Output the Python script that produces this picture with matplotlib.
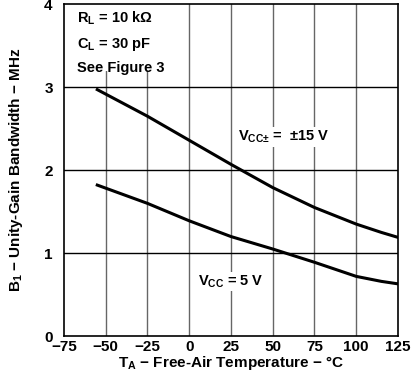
import matplotlib.pyplot as plt
from matplotlib.patches import Rectangle

plt.rcParams["font.family"] = ["Liberation Sans", "DejaVu Sans"]
plt.rcParams["font.weight"] = "bold"
plt.rcParams["mathtext.fontset"] = "custom"
plt.rcParams["mathtext.bf"] = "Liberation Sans:bold"
plt.rcParams["mathtext.rm"] = "Liberation Sans:bold"
plt.rcParams["mathtext.default"] = "bf"

temps = [-55, -25, 0, 25, 50, 75, 100, 115, 125]
bw_15v = [2.97, 2.65, 2.36, 2.07, 1.79, 1.55, 1.35, 1.25, 1.19]
bw_5v = [1.82, 1.60, 1.39, 1.20, 1.05, 0.89, 0.72, 0.66, 0.63]

xticks = [-75, -50, -25, 0, 25, 50, 75, 100, 125]
xlabels = ["\u221275", "\u221250", "\u221225", "0", "25", "50", "75", "100", "125"]
yticks = [0, 1, 2, 3, 4]

fig = plt.figure(figsize=(4.12, 3.76), dpi=100)
ax = fig.add_axes([0.155, 0.106, 0.811, 0.883])

# grid: vertical grey, horizontal black
for x in xticks[1:-1]:
    ax.axvline(x, color="#666666", lw=1.0, zorder=1)
for y in yticks[1:-1]:
    ax.axhline(y, color="black", lw=1.0, zorder=1)

ax.plot(temps, bw_15v, color="black", lw=2.2, zorder=3)
ax.plot(temps, bw_5v, color="black", lw=2.2, zorder=3)

ax.set_xlim(-75, 125)
ax.set_ylim(0, 4)
ax.set_xticks(xticks)
ax.set_yticks(yticks)
ax.set_xticklabels(xlabels)
ax.tick_params(length=0, labelsize=11, pad=3)
ax.tick_params(axis="y", pad=8)
for s in ax.spines.values():
    s.set_linewidth(1.2)

# white panel behind the conditions text
ax.add_patch(Rectangle((-75, 3.2), 70, 0.8, facecolor="white", edgecolor="none", zorder=2))
ax.text(-67, 3.94, "R$_{L}$ = 10 k\u03a9\nC$_{L}$ = 30 pF\nSee Figure 3",
        fontsize=10.5, fontweight="bold", linespacing=1.75, va="top", ha="left", zorder=4)

box = dict(facecolor="white", edgecolor="none", pad=1)
ax.text(29, 2.40, "V$_{CC\u00b1}$ =  \u00b115 V", fontsize=10.5, fontweight="bold",
        ha="left", va="center", bbox=box, zorder=4)
ax.text(25, 0.66, "V$_{CC}$ = 5 V", fontsize=10.5, fontweight="bold",
        ha="center", va="center", bbox=box, zorder=4)

ax.set_xlabel("T$_{A}$ \u2212 Free-Air Temperature \u2212 \u00b0C", fontsize=11,
              fontweight="bold", labelpad=0)
ax.set_ylabel("B$_{1}$ \u2212 Unity-Gain Bandwidth \u2212 MHz", fontsize=11,
              fontweight="bold", labelpad=14)

fig.savefig("out.png", dpi=100)
